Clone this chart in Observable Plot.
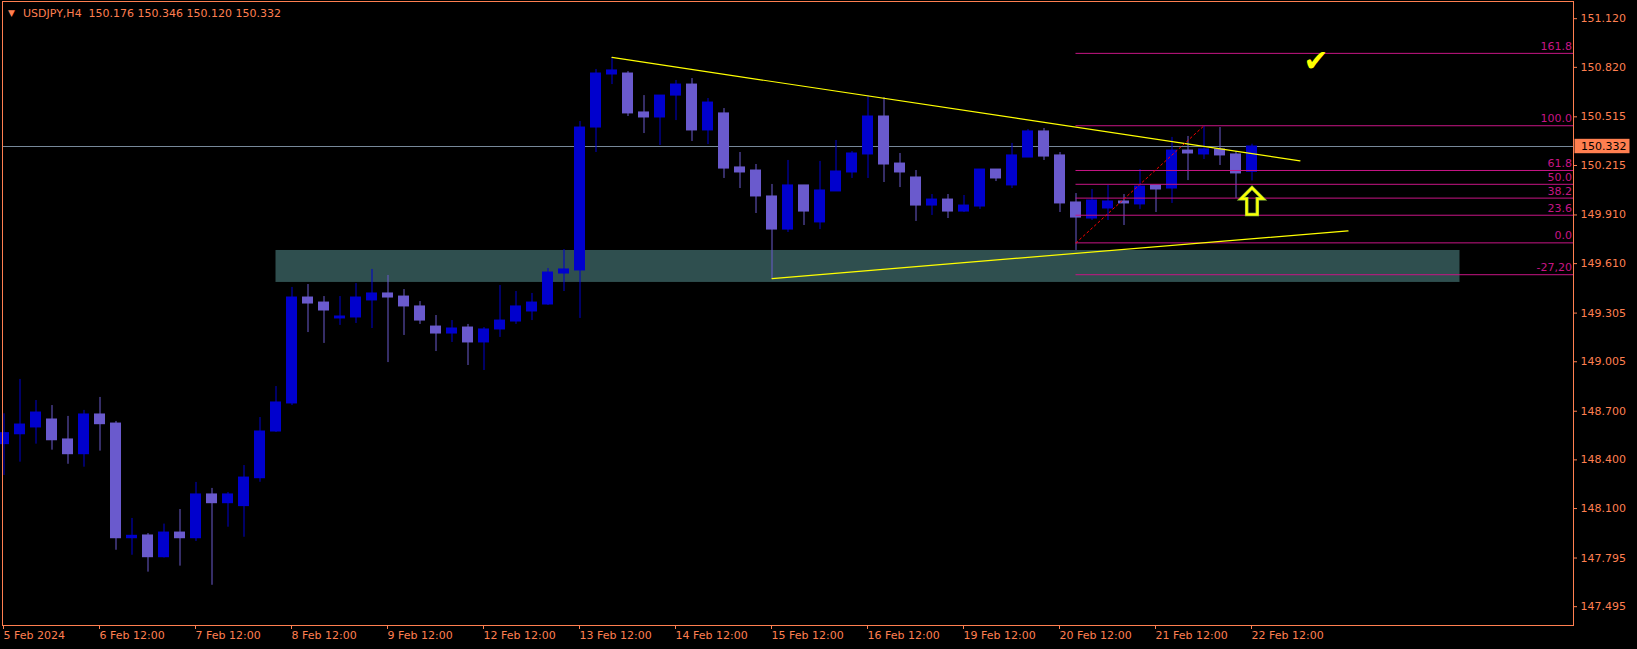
<!DOCTYPE html>
<html><head><meta charset="utf-8">
<script src="https://cdn.jsdelivr.net/npm/d3@7"></script>
<script src="https://cdn.jsdelivr.net/npm/@observablehq/plot@0.6"></script>
<style>html,body{margin:0;padding:0;background:#000;overflow:hidden}</style>
</head><body><div id="chart"></div>
<script>
// ---------- data ----------
const title = "USDJPY,H4";
const open = [
148.497,148.558,148.600,148.649,148.526,148.435,148.680,148.624,147.917,147.934,
147.800,147.952,147.917,148.187,148.133,148.115,148.287,148.575,148.748,149.401,
149.370,149.272,149.278,149.383,149.426,149.407,149.346,149.222,149.179,149.216,
149.124,149.204,149.253,149.315,149.358,149.549,149.568,150.449,150.776,150.782,
150.542,150.511,150.646,150.714,150.431,150.536,150.203,150.184,150.024,149.820,
150.092,149.864,150.055,150.172,150.283,150.517,150.227,150.141,149.968,150.005,
149.931,149.962,150.190,150.092,150.264,150.425,150.277,149.987,149.888,149.950,
149.993,149.975,150.092,150.073,150.307,150.283,150.314,150.283,150.176];
const high = [
148.684,148.896,148.766,148.735,148.668,148.705,148.785,148.637,148.039,147.946,
148.004,148.094,148.261,148.224,148.199,148.365,148.661,148.852,149.463,149.481,
149.407,149.407,149.487,149.574,149.537,149.450,149.376,149.290,149.259,149.235,
149.216,149.475,149.438,149.426,149.580,149.697,150.486,150.807,150.881,150.794,
150.646,150.646,150.739,150.751,150.628,150.566,150.295,150.221,150.098,150.246,
150.092,150.240,150.369,150.301,150.646,150.634,150.289,150.184,150.036,150.036,
150.030,150.190,150.190,150.351,150.437,150.443,150.295,150.042,150.067,150.092,
150.036,150.190,150.092,150.388,150.394,150.455,150.449,150.301,150.346];
const low = [
148.304,148.386,148.497,148.460,148.373,148.355,148.454,147.843,147.812,147.708,
147.795,147.745,147.897,147.627,147.985,147.923,148.262,148.569,148.735,149.185,
149.118,149.229,149.241,149.210,149.000,149.167,149.235,149.068,149.124,148.982,
148.951,149.155,149.235,149.259,149.352,149.438,149.272,150.295,150.714,150.517,
150.412,150.338,150.492,150.363,150.344,150.135,150.073,149.919,149.518,149.802,
149.845,149.820,150.055,150.135,150.135,150.110,150.079,149.870,149.907,149.888,
149.925,149.944,150.116,150.073,150.264,150.246,149.925,149.691,149.876,149.876,
149.845,149.944,149.925,149.981,150.122,150.252,150.215,150.012,150.120];
const close = [
148.565,148.618,148.692,148.521,148.435,148.680,148.620,147.917,147.932,147.800,
147.952,147.917,148.187,148.133,148.187,148.291,148.575,148.754,149.401,149.364,
149.321,149.284,149.401,149.426,149.401,149.346,149.259,149.179,149.210,149.124,
149.204,149.259,149.346,149.370,149.555,149.574,150.449,150.782,150.801,150.536,
150.511,150.646,150.714,150.431,150.603,150.196,150.172,150.024,149.820,150.092,
149.931,150.061,150.178,150.289,150.517,150.221,150.172,149.968,150.005,149.931,
149.968,150.190,150.135,150.277,150.425,150.270,149.981,149.894,149.999,149.993,
149.981,150.085,150.067,150.307,150.289,150.314,150.277,150.166,150.332];

const xTickIndex = [0,6,12,18,24,30,36,42,48,54,60,66,72,78];
const xTickLabels = ["5 Feb 2024","6 Feb 12:00","7 Feb 12:00","8 Feb 12:00","9 Feb 12:00",
  "12 Feb 12:00","13 Feb 12:00","14 Feb 12:00","15 Feb 12:00","16 Feb 12:00",
  "19 Feb 12:00","20 Feb 12:00","21 Feb 12:00","22 Feb 12:00"];
const yTicks = [151.120,150.820,150.515,150.215,149.910,149.610,149.305,149.005,148.700,148.400,148.100,147.795,147.495];

const zoneBars = [17, 91];
const zonePrices = [149.494, 149.691];
const upperTrend = [[38, 150.881], [81, 150.244]];
const lowerTrend = [[48, 149.518], [84, 149.812]];
const fibBars = [67, 75];
const fibPrices = [149.738, 150.460];
const fibLevels = [161.8, 100, 61.8, 50, 38.2, 23.6, 0, -27.2];
const fibLabels = ["161.8","100.0","61.8","50.0","38.2","23.6","0.0","-27,20"];
const checkMark = [82, 150.858];
const arrowMark = [78, 149.996];

// ---------- layout / style ----------
const W = 1637, H = 649;
const mL = 2, mR = 64, mT = 1, mB = 24;
const barStep = 16, firstBarX = 3.5, halfBody = 5.5 / 16;
const pxPerPrice = 162.2;
const coral = "#FF7F50", bull = "#0000CD", bear = "#6A5ACD", fibColor = "#C71585";
const xDomain = [(mL - firstBarX) / barStep, (W - mR - firstBarX) / barStep];
const yDomain = [147.379, 151.226];

const bars = open.map((o, i) => ({i, o, h: high[i], l: low[i], c: close[i]}));
const ups = bars.filter(d => d.c >= d.o);
const downs = bars.filter(d => d.c < d.o);
const last = bars[bars.length - 1];
const fibPrice = lv => fibPrices[0] + lv / 100 * (fibPrices[1] - fibPrices[0]);

const arrowSymbol = {draw(ctx) {
  ctx.moveTo(0, -13.3); ctx.lineTo(11, -2.2); ctx.lineTo(5.3, -2.2); ctx.lineTo(5.3, 13.5);
  ctx.lineTo(-5.3, 13.5); ctx.lineTo(-5.3, -2.2); ctx.lineTo(-11, -2.2); ctx.closePath();
}};

const fmt = d3.format(".3f");

const chart = Plot.plot({
  width: W, height: H,
  marginLeft: mL, marginRight: mR, marginTop: mT, marginBottom: mB,
  style: {background: "#000", fontFamily: "DejaVu Sans", fontSize: "11px", color: coral, overflow: "visible"},
  x: {domain: xDomain, label: null},
  y: {domain: yDomain, label: null},
  marks: [
    Plot.rect([0], {x1: () => zoneBars[0], x2: () => zoneBars[1], y1: () => zonePrices[0], y2: () => zonePrices[1], fill: "#2F4F4F"}),
    Plot.ruleY([last.c], {stroke: "#778899", strokeWidth: 1}),
    Plot.ruleX(ups, {x: "i", y1: "l", y2: "h", stroke: bull}),
    Plot.ruleX(downs, {x: "i", y1: "l", y2: "h", stroke: bear}),
    Plot.rect(ups, {x1: d => d.i - halfBody, x2: d => d.i + halfBody, y1: "o", y2: "c", fill: bull, insetTop: -0.5, insetBottom: -0.5}),
    Plot.rect(downs, {x1: d => d.i - halfBody, x2: d => d.i + halfBody, y1: "o", y2: "c", fill: bear, insetTop: -0.5, insetBottom: -0.5}),
    Plot.ruleY(fibLevels, {y: fibPrice, x1: () => fibBars[0], x2: () => xDomain[1], stroke: fibColor}),
    Plot.text(fibLevels, {y: fibPrice, text: (d, i) => fibLabels[i], frameAnchor: "right", textAnchor: "end", dx: -1.5, dy: -7, fill: fibColor, fontSize: 11}),
    Plot.line(upperTrend, {x: d => d[0], y: d => d[1], stroke: "#FFFF00", strokeWidth: 1.2}),
    Plot.line(lowerTrend, {x: d => d[0], y: d => d[1], stroke: "#FFFF00", strokeWidth: 1.2}),
    Plot.line(fibBars.map((b, k) => [b, fibPrices[k]]), {x: d => d[0], y: d => d[1], stroke: "#FF0000", strokeDasharray: "2,3", strokeWidth: 1}),
    Plot.text([checkMark], {x: d => d[0], y: d => d[1], text: () => "✔", fill: "#FFFF00", fontSize: 30, fontStyle: "italic"}),
    Plot.dot([arrowMark], {x: d => d[0], y: d => d[1], symbol: arrowSymbol, stroke: "#9ACD32", strokeWidth: 3.5, fill: "none"}),
    Plot.dot([arrowMark], {x: d => d[0], y: d => d[1], symbol: arrowSymbol, stroke: "#FFFF00", strokeWidth: 2, fill: "none"}),
    Plot.text(["▼"], {frameAnchor: "top-left", dx: 9, dy: 11.5, lineAnchor: "middle", textAnchor: "middle", fill: coral, fontSize: 9}),
    Plot.text([`${title}  ${fmt(open[78])} ${fmt(high[78])} ${fmt(low[78])} ${fmt(close[78])}`],
      {frameAnchor: "top-left", dx: 20.5, dy: 11.8, lineAnchor: "middle", textAnchor: "start", fill: coral, fontSize: 11}),
    Plot.axisY({anchor: "right", ticks: yTicks, tickFormat: fmt, tickSize: 3, tickPadding: 4, color: coral, fontSize: 11, label: null}),
    Plot.axisX({anchor: "bottom", ticks: xTickIndex, tickFormat: d => xTickLabels[xTickIndex.indexOf(d)], tickSize: 4, tickPadding: 2, textAnchor: "start", dx: -0.5, color: coral, fontSize: 11, label: null}),
    Plot.frame({stroke: coral}),
    // current-price tag on the price axis
    Plot.rect([last], {x1: () => xDomain[1] + 1.5 / barStep, x2: () => xDomain[1] + 56.5 / barStep,
      y1: d => d.c - 7.2 / pxPerPrice, y2: d => d.c + 7.2 / pxPerPrice, fill: coral}),
    Plot.text([last], {y: "c", text: d => fmt(d.c), frameAnchor: "right", dx: 7.5, textAnchor: "start", fill: "#000", fontSize: 11})
  ]
});
document.getElementById("chart").appendChild(chart);
</script>
</body></html>
